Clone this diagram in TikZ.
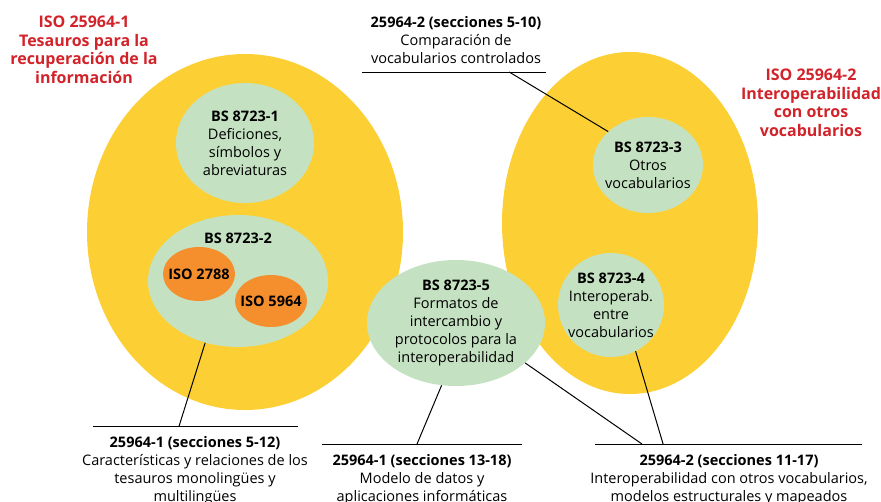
\documentclass[tikz,border=0pt]{standalone}
\usepackage{fontspec}
\setmainfont{Open Sans}
\usetikzlibrary{shapes.geometric,calc}
\definecolor{isoyellow}{RGB}{252,208,52}
\definecolor{bsgreen}{RGB}{196,226,194}
\definecolor{isoorange}{RGB}{245,143,46}
\definecolor{isored}{RGB}{210,35,42}

\begin{document}
\begin{tikzpicture}[x=1pt,y=-1pt,
  every node/.style={font=\fontsize{14.5}{18}\selectfont, align=center, inner sep=0pt},
  norma/.style={ellipse, fill=isoyellow},
  parte/.style={ellipse, fill=bsgreen, inner xsep=-8pt},
  previa/.style={ellipse, fill=isoorange, inner xsep=-8pt, font=\fontsize{14.5}{18}\selectfont\bfseries},
  titulo/.style={text=isored, font=\fontsize{16}{18.7}\selectfont\bfseries},
  guia/.style={line width=1pt}]
\useasboundingbox (0,0) rectangle (881,501);

% Two big ISO parts
\node[norma, minimum width=316pt, minimum height=356pt] (iso1) at (245,232) {};
\node[norma, minimum width=256pt, minimum height=342pt] (iso2) at (630,223) {};

% Parts of BS 8723
\node[parte, minimum width=138pt, minimum height=120pt] (bs1) at (245,143) {\textbf{BS 8723-1}\\Deficiones,\\símbolos y\\abreviaturas};
\node[parte, minimum width=180pt, minimum height=132pt] (bs2) at (238,281) {};
\node[font=\fontsize{14.5}{18}\selectfont\bfseries] (bs2t) at (238,238) {BS 8723-2};
\node[previa, minimum width=72pt, minimum height=54pt] (iso2788) at (199,274) {ISO 2788};
\node[previa, minimum width=72pt, minimum height=52pt] (iso5964) at (271,301) {ISO 5964};
\node[parte, minimum width=110pt, minimum height=96pt] (bs3) at (648,165) {\textbf{BS 8723-3}\\Otros\\vocabularios};
\node[parte, minimum width=106pt, minimum height=104pt] (bs4) at (611,305) {\textbf{BS 8723-4}\\Interoperab.\\entre\\vocabularios};
\node[parte, minimum width=178pt, minimum height=126pt] (bs5) at (456,323) {\textbf{BS 8723-5}\\Formatos de\\intercambio y\\protocolos para la\\interoperabilidad};

% Titles
\node[titulo, anchor=north] (t1) at (84,15.5) {ISO 25964-1\\Tesauros para la\\recuperación de la\\información};
\node[titulo, anchor=north] (t2) at (811,68.5) {ISO 25964-2\\Interoperabilidad\\con otros\\vocabularios};

% Sections with their rules
\coordinate (a1) at (362,72);  \coordinate (a2) at (546,72);
\coordinate (b1) at (93,426);  \coordinate (b2) at (298,426);
\coordinate (c1) at (322,444); \coordinate (c2) at (522,444);
\coordinate (d1) at (595,444); \coordinate (d2) at (862,444);
\foreach \p in {a,b,c,d}
  \draw[guia] (\p1) -- (\p2);

\node[anchor=north] (s510) at (456,16.5) {\textbf{25964-2 (secciones 5-10)}\\Comparación de\\vocabularios controlados};
\node[anchor=north] (s512) at (195,436) {\textbf{25964-1 (secciones 5-12)}\\Características y relaciones de los\\tesauros monolingües y\\multilingües};
\node[anchor=north] (s1318) at (422,454) {\textbf{25964-1 (secciones 13-18)}\\Modelo de datos y\\aplicaciones informáticas};
\node[anchor=north] (s1117) at (729,454) {\textbf{25964-2 (secciones 11-17)}\\Interoperabilidad con otros vocabularios,\\modelos estructurales y mapeados};

% Leaders
\draw[guia] ($(a1)!0.80!(a2)$) -- (bs3.140);
\draw[guia] ($(b1)!0.42!(b2)$) -- (bs2.242);
\draw[guia] ($(c1)!0.475!(c2)$) -- (bs5.257);
\draw[guia] ($(d1)!0.176!(d2)$) -- (bs5.330);
\draw[guia] ($(d1)!0.255!(d2)$) -- (bs4.298);
\end{tikzpicture}
\end{document}
